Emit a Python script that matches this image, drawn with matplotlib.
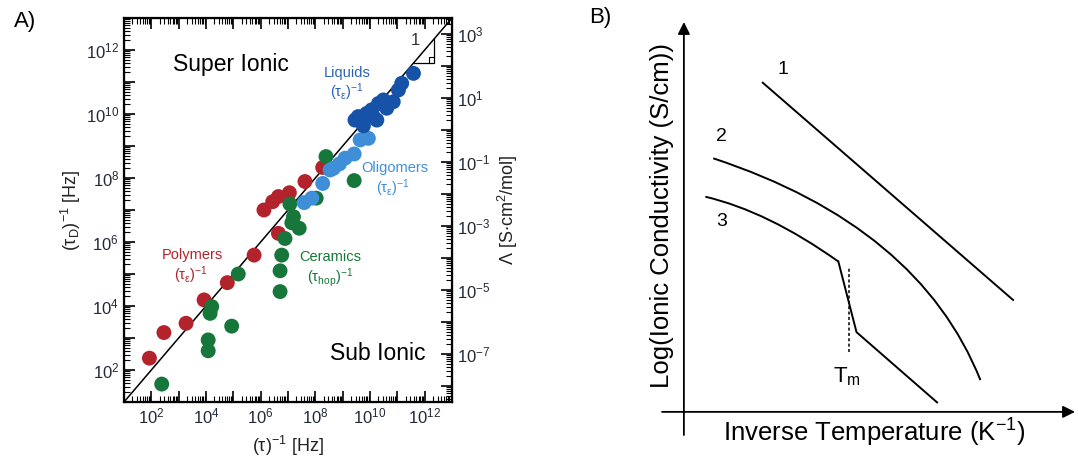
import numpy as np
import matplotlib
matplotlib.use("Agg")
from matplotlib import pyplot as plt
from matplotlib import ticker
from matplotlib.path import Path
from matplotlib.patches import PathPatch

plt.rcParams['font.family'] = ['Liberation Sans', 'DejaVu Sans']
plt.rcParams['mathtext.fontset'] = 'custom'
plt.rcParams['mathtext.rm'] = 'Liberation Sans'
plt.rcParams['mathtext.it'] = 'Liberation Sans:italic'
plt.rcParams['mathtext.default'] = 'regular'

#%% Data, panel A (log10 values)

poly_lx = [1.93, 2.46, 3.27, 3.93, 4.78, 5.76, 6.65, 6.12, 6.44, 6.65, 7.05, 7.62, 8.27]
poly_ly = [2.37, 3.17, 3.46, 4.19, 4.73, 5.59, 6.27, 7.00, 7.26, 7.42, 7.54, 7.89, 8.33]

cer_lx = [2.38, 4.08, 4.08, 4.94, 4.15, 4.21, 5.18, 6.71, 6.71, 6.77, 6.89, 7.41, 7.14, 7.20,
          7.07, 8.03, 8.39, 9.42]
cer_ly = [1.56, 2.60, 2.94, 3.37, 3.77, 3.98, 5.00, 4.45, 5.10, 5.59, 6.11, 6.43, 6.60, 6.79,
          7.19, 7.37, 8.67, 7.92]

oli_lx = [7.59, 7.87, 8.27, 8.54, 8.66, 8.88, 9.09, 9.42, 9.64, 9.94]
oli_ly = [7.23, 7.37, 7.83, 8.25, 8.30, 8.44, 8.62, 8.75, 9.19, 9.24]

liq_lx = [9.45, 9.57, 9.76, 9.88, 10.06, 10.12, 10.25, 10.31, 10.49, 10.61, 10.85, 11.04, 11.16, 11.59]
liq_ly = [9.81, 9.92, 9.63, 10.02, 10.13, 9.92, 9.81, 10.33, 10.44, 10.18, 10.38, 10.75, 10.96, 11.27]

lim_a = [1, 13]          # decades on both axes
lam_shift = 9.5          # Lambda axis = tau_D^-1 / 10^9.5
tri = [11.6, 12.35]      # slope triangle legs (log10)

#%% Data, panel B (schematic curves: end points and bezier control points)

c1_x = [1.91, 7.97]
c1_y = [7.97, 2.71]
c2_x = [0.71, 5.69, 7.18]          # start, control, end
c2_y = [6.14, 4.50, 0.77]
c3a_x = [0.52, 2.04, 3.74]         # curved part up to the kink
c3a_y = [5.21, 4.85, 3.64]
c3b_x = [3.74, 4.18, 6.13]         # melting drop and tail
c3b_y = [3.64, 1.93, 0.23]
tm_x = 3.99
tm_y = [1.45, 3.51]

red = '#b3232b'
green = '#17773a'
lblue = '#3f8fd8'
dblue = '#1552a8'

fig = plt.figure(figsize=(10.78, 4.59), dpi=100)

#%% Panel A

ax = fig.add_axes([124/1078, 57/459, 328/1078, 384/459])
ax.set_xscale('log')
ax.set_yscale('log')
ax.set_xlim(10.0**lim_a[0], 10.0**lim_a[1])
ax.set_ylim(10.0**lim_a[0], 10.0**lim_a[1])

ax.plot([10.0**lim_a[0], 10.0**lim_a[1]], [10.0**lim_a[0], 10.0**lim_a[1]], color='k', lw=1.1, zorder=2)

ms = 115
for lx, ly, c in [(poly_lx, poly_ly, red), (cer_lx, cer_ly, green),
                  (oli_lx, oli_ly, lblue), (liq_lx, liq_ly, dblue)]:
    ax.scatter(10.0**np.array(lx), 10.0**np.array(ly), s=ms, color=c, edgecolors='none', zorder=3)

# slope triangle
t0, t1 = 10.0**tri[0], 10.0**tri[1]
ax.plot([t0, t1, t1], [t0, t0, t1], color='k', lw=0.9, zorder=2)
sq = 10**0.18
ax.plot([t1/sq, t1/sq, t1], [t0, t0*sq, t0*sq], color='k', lw=0.8)
ax.text(10**11.65, 10**12.3, '1', fontsize=12, color='#333333', ha='center', va='center')

ax.text(10**4.9, 10**11.55, 'Super Ionic', fontsize=16.5, ha='center', va='center')
ax.text(10**10.3, 10**2.5, 'Sub Ionic', fontsize=16.5, ha='center', va='center')

lab_fs = 10.5
ax.text(10**9.15, 10**11.29, 'Liquids', fontsize=lab_fs, color='#2c62b8', ha='center', va='center')
ax.text(10**9.15, 10**10.67, r'$(\tau_\epsilon)^{-1}$', fontsize=lab_fs, color='#2c62b8', ha='center', va='center')
ax.text(10**10.92, 10**8.30, 'Oligomers', fontsize=lab_fs, color=lblue, ha='center', va='center')
ax.text(10**10.85, 10**7.68, r'$(\tau_\epsilon)^{-1}$', fontsize=lab_fs, color=lblue, ha='center', va='center')
ax.text(10**3.49, 10**5.59, 'Polymers', fontsize=lab_fs, color=red, ha='center', va='center')
ax.text(10**3.45, 10**4.97, r'$(\tau_\epsilon)^{-1}$', fontsize=lab_fs, color=red, ha='center', va='center')
ax.text(10**8.54, 10**5.54, 'Ceramics', fontsize=lab_fs, color=green, ha='center', va='center')
ax.text(10**8.54, 10**4.90, r'$(\tau_{hop})^{-1}$', fontsize=lab_fs, color=green, ha='center', va='center')

def even_fmt(v, pos):
    e = int(round(np.log10(v)))
    return r'$10^{%d}$' % e if e % 2 == 0 else ''

def odd_fmt(v, pos):
    e = int(round(np.log10(v)))
    return r'$10^{%d}$' % e if e % 2 != 0 else ''

tick_fs = 12
decades = [10.0**e for e in range(0, 15)]
ax.xaxis.set_major_locator(ticker.FixedLocator(decades))
ax.yaxis.set_major_locator(ticker.FixedLocator(decades))
ax.xaxis.set_major_formatter(ticker.FuncFormatter(even_fmt))
ax.yaxis.set_major_formatter(ticker.FuncFormatter(even_fmt))
ax.xaxis.set_minor_locator(ticker.LogLocator(base=10, subs=np.arange(2, 10), numticks=100))
ax.yaxis.set_minor_locator(ticker.LogLocator(base=10, subs=np.arange(2, 10), numticks=100))
ax.xaxis.set_minor_formatter(ticker.NullFormatter())
ax.yaxis.set_minor_formatter(ticker.NullFormatter())
ax.tick_params(which='both', direction='in', top=True, right=False, labelsize=tick_fs,
               labelcolor='#222a38', width=1.2)
ax.tick_params(which='major', length=8)
ax.tick_params(which='minor', length=4, width=0.8)
for s in ax.spines.values():
    s.set_linewidth(1.6)

ax.set_xlabel(r'$(\tau)^{-1}$ [Hz]', fontsize=13, color='#222222', labelpad=5)
ax.set_ylabel(r'$(\tau_D)^{-1}$ [Hz]', fontsize=13, color='#222222', labelpad=2)

ax2 = ax.twinx()
ax2.set_yscale('log')
ax2.set_ylim(10.0**(lim_a[0] - lam_shift), 10.0**(lim_a[1] - lam_shift))
ax2.yaxis.set_major_locator(ticker.FixedLocator([10.0**e for e in range(-10, 5)]))
ax2.yaxis.set_major_formatter(ticker.FuncFormatter(odd_fmt))
ax2.yaxis.set_minor_locator(ticker.LogLocator(base=10, subs=np.arange(2, 10), numticks=100))
ax2.yaxis.set_minor_formatter(ticker.NullFormatter())
ax2.tick_params(which='both', direction='in', labelsize=tick_fs, labelcolor='#222a38', width=1.2)
ax2.tick_params(which='major', length=8)
ax2.tick_params(which='minor', length=4, width=0.8)
ax2.set_ylabel(r'$\Lambda$ [S$\cdot$cm$^2$/mol]', fontsize=13, color='#222222', labelpad=4)

fig.text(25/1078, 1 - 22/459, 'A)', fontsize=16, ha='center', va='center')

#%% Panel B

bx = fig.add_axes([662/1078, 24/459, 413/1078, 413/459])
bx.set_xlim(-0.53, 9.47)
bx.set_ylim(-0.56, 9.44)
bx.axis('off')

bx.annotate('', xy=(9.47, 0), xytext=(-0.53, 0),
            arrowprops=dict(arrowstyle='-|>', color='k', lw=1.3, mutation_scale=18, shrinkA=0, shrinkB=0))
bx.annotate('', xy=(0, 9.44), xytext=(0, -0.56),
            arrowprops=dict(arrowstyle='-|>', color='k', lw=1.3, mutation_scale=18, shrinkA=0, shrinkB=0))

def bezier(xs, ys):
    verts = list(zip(xs, ys))
    return PathPatch(Path(verts, [Path.MOVETO, Path.CURVE3, Path.CURVE3]),
                     facecolor='none', edgecolor='k', lw=1.4)

bx.plot(c1_x, c1_y, color='k', lw=1.4)
bx.add_patch(bezier(c2_x, c2_y))
bx.add_patch(bezier(c3a_x, c3a_y))
bx.plot(c3b_x, c3b_y, color='k', lw=1.4)
bx.plot([tm_x, tm_x], tm_y, color='k', lw=1.1, ls=(0, (2, 1.5)))

bx.text(2.40, 8.28, '1', fontsize=14, ha='center', va='center')
bx.text(0.92, 6.66, '2', fontsize=14, ha='center', va='center')
bx.text(0.92, 4.60, '3', fontsize=14, ha='center', va='center')
bx.text(3.95, 0.85, r'T$_\mathrm{m}$', fontsize=16, ha='center', va='center')

bx.text(4.6, -0.5, r'Inverse Temperature (K$^{-1}$)', fontsize=18.5, ha='center', va='center')
bx.text(-0.53, 4.75, 'Log(Ionic Conductivity (S/cm))', fontsize=18.5, rotation=90,
        ha='center', va='center')

fig.text(600/1078, 1 - 18/459, 'B)', fontsize=16, ha='center', va='center')

fig.savefig('out.png', dpi=100, facecolor='white')
